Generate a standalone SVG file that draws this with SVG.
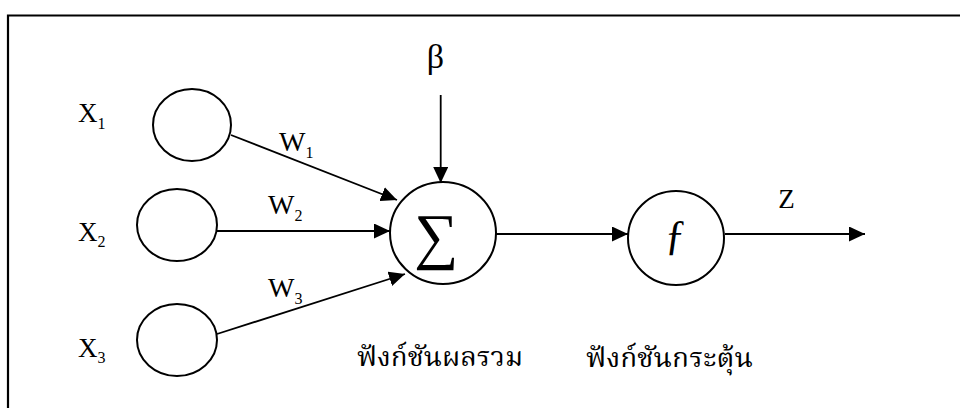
<svg xmlns="http://www.w3.org/2000/svg" width="960" height="408" viewBox="0 0 960 408">
<style>
.n{fill:#fff;stroke:#000;stroke-width:2}
.c{stroke:#000;stroke-width:1.8;fill:none}
.t{font-family:"Liberation Serif","Times New Roman",serif;fill:#000}
.th{font-family:"Liberation Serif","Noto Serif Thai","Noto Sans Thai","DejaVu Sans",serif;fill:#000;font-size:27px}
</style>
<defs>
<marker id="ah" markerUnits="userSpaceOnUse" markerWidth="16" markerHeight="15" refX="16" refY="7.5" orient="auto">
<path d="M0,0 L16,7.5 L0,15 z" fill="#000"/>
</marker>
</defs>
<path d="M8,408 V15.5 H960" fill="none" stroke="#000" stroke-width="2.2"/>
<g id="connectors">
<line class="c" x1="231" y1="135" x2="397" y2="200" marker-end="url(#ah)"/>
<line class="c" x1="217" y1="231" x2="390" y2="231" marker-end="url(#ah)"/>
<line class="c" x1="217" y1="334" x2="405" y2="274" marker-end="url(#ah)"/>
<line class="c" x1="440.7" y1="95" x2="440.7" y2="183" marker-end="url(#ah)"/>
<line class="c" x1="496" y1="234" x2="628" y2="234" marker-end="url(#ah)"/>
<line class="c" x1="725" y1="234" x2="865" y2="234" marker-end="url(#ah)"/>
</g>
<g id="in1">
<ellipse class="n" cx="192" cy="125" rx="39" ry="36"/>
<text class="t" x="78" y="122" font-size="27">X<tspan font-size="16" dy="7">1</tspan></text>
</g>
<g id="in2">
<ellipse class="n" cx="177" cy="225" rx="40" ry="36"/>
<text class="t" x="78" y="241" font-size="27">X<tspan font-size="16" dy="6">2</tspan></text>
</g>
<g id="in3">
<ellipse class="n" cx="177" cy="340" rx="40" ry="36"/>
<text class="t" x="78" y="357" font-size="27">X<tspan font-size="16" dy="6">3</tspan></text>
</g>
<g id="w-labels">
<text class="t" x="279" y="151" font-size="28">W<tspan font-size="16" dy="7">1</tspan></text>
<text class="t" x="268" y="214" font-size="28">W<tspan font-size="16" dy="7">2</tspan></text>
<text class="t" x="268" y="297" font-size="28">W<tspan font-size="16" dy="7">3</tspan></text>
</g>
<g id="bias">
<text class="t" x="435.5" y="68" font-size="34" text-anchor="middle">β</text>
</g>
<g id="sum">
<ellipse class="n" cx="443" cy="233" rx="53" ry="51"/>
<text class="t" x="436" y="257" font-size="62" text-anchor="middle">∑</text>
<text class="th" x="357" y="366" textLength="166" lengthAdjust="spacingAndGlyphs">ฟังก์ชันผลรวม</text>
</g>
<g id="act">
<ellipse class="n" cx="676" cy="238" rx="48" ry="47"/>
<text class="t" x="675.5" y="249" font-size="43" text-anchor="middle">ƒ</text>
<text class="th" x="586" y="367" textLength="167" lengthAdjust="spacingAndGlyphs">ฟังก์ชันกระตุ้น</text>
</g>
<g id="output">
<text class="t" x="786.5" y="208" font-size="27" text-anchor="middle">Z</text>
</g>
</svg>
